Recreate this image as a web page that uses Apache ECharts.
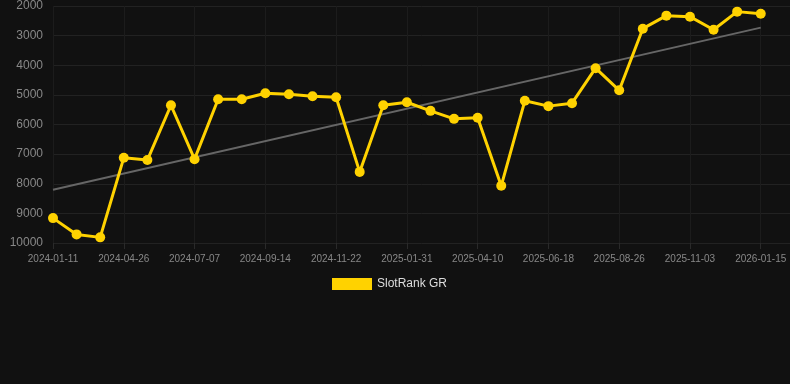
<!DOCTYPE html>
<html>
<head>
<meta charset="utf-8">
<script src="https://cdn.jsdelivr.net/npm/echarts@6/dist/echarts.min.js"></script>
<style>
  html, body { margin: 0; padding: 0; background: #111111; }
  #chart { width: 790px; height: 384px; }
</style>
</head>
<body>
<div id="chart"></div>
<script>
// dates on the x axis (one per point)
var dates = [
  '2024-01-11', '2024-02-15', '2024-03-21',
  '2024-04-26', '2024-05-20', '2024-06-13',
  '2024-07-07', '2024-07-30', '2024-08-22',
  '2024-09-14', '2024-10-07', '2024-10-30',
  '2024-11-22', '2024-12-15', '2025-01-08',
  '2025-01-31', '2025-02-23', '2025-03-18',
  '2025-04-10', '2025-05-03', '2025-05-26',
  '2025-06-18', '2025-07-11', '2025-08-03',
  '2025-08-26', '2025-09-18', '2025-10-11',
  '2025-11-03', '2025-11-27', '2025-12-21',
  '2026-01-15'
]

// rank values
var rankGR = [
  9160, 9710, 9810, 7125, 7200, 5350, 7170, 5150, 5150, 4945,
  4980, 5045, 5080, 7600, 5350, 5250, 5540, 5810, 5775, 8070,
  5200, 5380, 5280, 4100, 4845, 2765, 2325, 2360, 2800, 2190,
  2260
]

// trend line end points (first and last date)
var trendIndex = [0, 30]
var trendValue = [8200, 2730]

var myChart = echarts.init(document.getElementById('chart'))

var option = {
  backgroundColor: '#111111',
  animation: false,
  textStyle: { fontFamily: 'Liberation Sans, Arial, sans-serif' },
  grid: {
    left: 53,
    right: 0,
    top: 6,
    bottom: 141,
  },
  legend: {
    data: ['SlotRank GR'],
    top: 273,
    left: 327,
    itemWidth: 40,
    itemHeight: 12,
    itemGap: 6,
    icon: 'rect',
    textStyle: { color: '#dddddd', fontSize: 12 },
  },
  xAxis: {
    type: 'value',
    min: 0,
    max: 31.24,
    interval: 3,
    axisLine: { show: false },
    axisTick: { show: true, length: 6, lineStyle: { color: '#2a2a2a' } },
    axisLabel: {
      color: '#888888',
      fontSize: 10,
      margin: 11,
      showMaxLabel: false,
      formatter: function (v) {
        return dates[v] || ''
      },
    },
    splitLine: {
      show: true,
      showMaxLine: false,
      lineStyle: { color: '#1c1c1c', width: 1 },
    },
  },
  yAxis: {
    type: 'value',
    inverse: true,
    min: 2000,
    max: 10000,
    interval: 1000,
    axisLine: { show: false },
    axisTick: { show: false },
    axisLabel: {
      color: '#888888',
      fontSize: 12,
      margin: 10,
      formatter: function (v) { return String(v) },
    },
    splitLine: { lineStyle: { color: '#222222', width: 1 } },
  },
  series: [
    {
      name: 'SlotRank GR',
      type: 'line',
      data: rankGR.map(function (v, i) { return [i, v] }),
      symbol: 'circle',
      symbolSize: 10,
      itemStyle: { color: '#ffd200' },
      lineStyle: { color: '#ffd200', width: 3 },
      z: 3,
    },
    {
      name: 'trend',
      type: 'line',
      data: trendIndex.map(function (x, i) { return [x, trendValue[i]] }),
      symbol: 'none',
      lineStyle: { color: '#666666', width: 2 },
      z: 2,
    },
  ],
}

myChart.setOption(option)
</script>
</body>
</html>
